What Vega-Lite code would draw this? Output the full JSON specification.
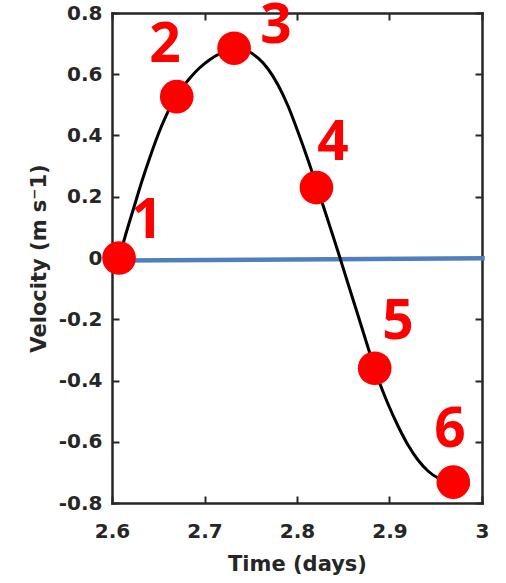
{
  "$schema": "https://vega.github.io/schema/vega-lite/v6.json",
  "width": 370,
  "height": 490,
  "autosize": "none",
  "padding": {"left": 112, "top": 13, "right": 24, "bottom": 80},
  "background": "white",
  "config": {
    "view": {"stroke": null},
    "axis": {
      "grid": false,
      "domainColor": "#262626",
      "domainWidth": 2.5,
      "domainCap": "square",
      "tickColor": "#262626",
      "tickWidth": 2,
      "tickSize": -7,
      "labelFont": "DejaVu Sans",
      "labelFontWeight": "bold",
      "labelFontSize": 20,
      "labelColor": "#262626",
      "labelFlush": false,
      "labelOverlap": false,
      "titleFont": "DejaVu Sans",
      "titleFontWeight": "bold",
      "titleFontSize": 21,
      "titleColor": "#262626"
    }
  },
  "datasets": {
    "baseline": [
      {"t": 2.6076, "v": -0.008},
      {"t": 3.003, "v": -0.001}
    ],
    "curve": [
      {"t": 2.6076, "v": 0.0},
      {"t": 2.6151, "v": 0.08},
      {"t": 2.6238, "v": 0.1665},
      {"t": 2.6324, "v": 0.2514},
      {"t": 2.6411, "v": 0.3298},
      {"t": 2.6497, "v": 0.4016},
      {"t": 2.6584, "v": 0.4637},
      {"t": 2.667, "v": 0.5159},
      {"t": 2.6757, "v": 0.5551},
      {"t": 2.6843, "v": 0.5878},
      {"t": 2.6951, "v": 0.622},
      {"t": 2.706, "v": 0.6482},
      {"t": 2.7168, "v": 0.6678},
      {"t": 2.7254, "v": 0.6792},
      {"t": 2.7362, "v": 0.6873},
      {"t": 2.747, "v": 0.6759},
      {"t": 2.7578, "v": 0.6531},
      {"t": 2.7687, "v": 0.6171},
      {"t": 2.7795, "v": 0.5649},
      {"t": 2.7903, "v": 0.4963},
      {"t": 2.8011, "v": 0.4114},
      {"t": 2.8119, "v": 0.32},
      {"t": 2.8227, "v": 0.222},
      {"t": 2.8335, "v": 0.1224},
      {"t": 2.8443, "v": 0.0212},
      {"t": 2.8551, "v": -0.0833},
      {"t": 2.866, "v": -0.1878},
      {"t": 2.8768, "v": -0.2922},
      {"t": 2.8876, "v": -0.3935},
      {"t": 2.8984, "v": -0.4767},
      {"t": 2.9092, "v": -0.5486},
      {"t": 2.92, "v": -0.6106},
      {"t": 2.9308, "v": -0.6596},
      {"t": 2.9416, "v": -0.6955},
      {"t": 2.9524, "v": -0.7184},
      {"t": 2.9632, "v": -0.7314},
      {"t": 2.969, "v": -0.7331}
    ],
    "points": [
      {"id": "1", "t": 2.6076, "v": 0.0, "label_t": 2.6378, "label_v": 0.121},
      {"id": "2", "t": 2.670, "v": 0.527, "label_t": 2.6573, "label_v": 0.696},
      {"id": "3", "t": 2.732, "v": 0.685, "label_t": 2.7773, "label_v": 0.758},
      {"id": "4", "t": 2.821, "v": 0.23, "label_t": 2.8389, "label_v": 0.3755},
      {"id": "5", "t": 2.884, "v": -0.36, "label_t": 2.9092, "label_v": -0.209},
      {"id": "6", "t": 2.969, "v": -0.732, "label_t": 2.9654, "label_v": -0.5616}
    ]
  },
  "layer": [
    {
      "data": {"name": "baseline"},
      "mark": {"type": "line", "color": "#4F7FBF", "strokeWidth": 4.5},
      "encoding": {
        "x": {
          "field": "t", "type": "quantitative",
          "scale": {"domain": [2.6, 3], "nice": false, "zero": false},
          "axis": {
            "orient": "bottom",
            "title": "Time (days)",
            "values": [2.6, 2.7, 2.8, 2.9, 3],
            "labelExpr": "'' + datum.value",
            "labelPadding": 25,
            "titlePadding": 12
          }
        },
        "y": {
          "field": "v", "type": "quantitative",
          "scale": {"domain": [-0.8, 0.8], "nice": false, "zero": false},
          "axis": {
            "orient": "left",
            "title": "Velocity (m s\u207b1)",
            "values": [-0.8, -0.6, -0.4, -0.2, 0, 0.2, 0.4, 0.6, 0.8],
            "labelExpr": "'' + datum.value",
            "labelPadding": 17,
            "titlePadding": 9
          }
        }
      }
    },
    {
      "data": {"name": "curve"},
      "mark": {"type": "line", "color": "black", "strokeWidth": 3, "interpolate": "monotone"},
      "encoding": {
        "x": {
          "field": "t", "type": "quantitative",
          "scale": {"domain": [2.6, 3], "nice": false, "zero": false},
          "axis": {"orient": "top", "title": null, "labels": false, "values": [2.6, 2.7, 2.8, 2.9, 3]}
        },
        "y": {
          "field": "v", "type": "quantitative",
          "scale": {"domain": [-0.8, 0.8], "nice": false, "zero": false},
          "axis": {"orient": "right", "title": null, "labels": false, "values": [-0.8, -0.6, -0.4, -0.2, 0, 0.2, 0.4, 0.6, 0.8]}
        }
      }
    },
    {
      "data": {"name": "points"},
      "mark": {"type": "circle", "color": "#FF0000", "opacity": 1, "size": 1134},
      "encoding": {
        "x": {"field": "t", "type": "quantitative", "scale": {"domain": [2.6, 3], "nice": false, "zero": false}, "axis": null},
        "y": {"field": "v", "type": "quantitative", "scale": {"domain": [-0.8, 0.8], "nice": false, "zero": false}, "axis": null}
      }
    },
    {
      "data": {"name": "points"},
      "mark": {"type": "text", "color": "#FF0000", "font": "Open Sans", "fontWeight": "bold", "fontSize": 55, "align": "center", "baseline": "middle"},
      "encoding": {
        "x": {"field": "label_t", "type": "quantitative", "scale": {"domain": [2.6, 3], "nice": false, "zero": false}, "axis": null},
        "y": {"field": "label_v", "type": "quantitative", "scale": {"domain": [-0.8, 0.8], "nice": false, "zero": false}, "axis": null},
        "text": {"field": "id", "type": "nominal"}
      }
    }
  ],
  "resolve": {"axis": {"x": "independent", "y": "independent"}}
}
